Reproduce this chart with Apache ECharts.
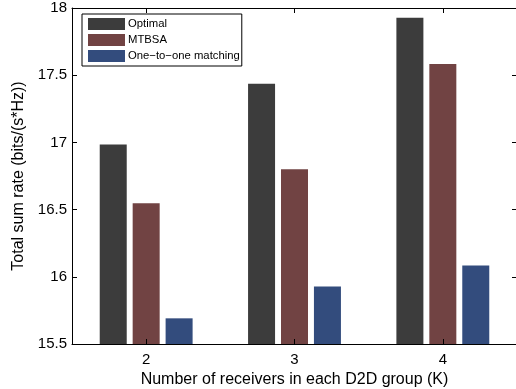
<!DOCTYPE html>
<html>
<head>
<meta charset="utf-8">
<script src="https://cdn.jsdelivr.net/npm/echarts@6/dist/echarts.min.js"></script>
<style>
  html, body { margin: 0; padding: 0; background: #fff; }
  #chart { width: 516px; height: 389px; }
</style>
</head>
<body>
<div id="chart"></div>
<script>
// Receivers per D2D group (K)
const categories = ['2', '3', '4'];
// Total sum rate, bits/(s*Hz)
const optimal = [16.985, 17.437, 17.928];
const mtbsa = [16.547, 16.800, 17.583];
const oneToOne = [15.691, 15.927, 16.085];
const seriesNames = ['Optimal', 'MTBSA', 'One\u2212to\u2212one matching'];
const yTicks = [15.5, 16, 16.5, 17, 17.5, 18];

const colors = ['#3c3c3c', '#714343', '#334c7d'];
const font = 'Liberation Sans, Arial, Helvetica, sans-serif';

const chart = echarts.init(document.getElementById('chart'), null, { renderer: 'canvas' });

const axisLine = { show: true, lineStyle: { color: '#000', width: 1 } };

function barSeries(name, data, color) {
  return {
    name: name,
    type: 'bar',
    data: data,
    barWidth: 27,
    barGap: '22%',
    itemStyle: { color: color },
    emphasis: { disabled: true }
  };
}

chart.setOption({
  animation: false,
  color: colors,
  textStyle: { fontFamily: font },
  grid: { left: 72, right: -1, top: 8, bottom: 45, containLabel: false, outerBoundsMode: 'none' },
  legend: {
    orient: 'vertical',
    left: 82,
    top: 14,
    padding: [4, 2, 4, 6],
    itemWidth: 37,
    itemHeight: 12,
    itemGap: 4,
    icon: 'rect',
    borderColor: '#000',
    borderWidth: 1,
    backgroundColor: '#fff',
    selectedMode: false,
    textStyle: { fontFamily: font, fontSize: 11.3, color: '#000', padding: [0, 0, 0, -2] },
    data: seriesNames
  },
  xAxis: [
    {
      type: 'category',
      data: categories,
      position: 'bottom',
      axisLine: axisLine,
      axisTick: { show: true, inside: true, alignWithLabel: true, length: 5, lineStyle: { color: '#000' } },
      axisLabel: { color: '#000', fontSize: 15, fontFamily: font, margin: 8 },
      name: 'Number of receivers in each D2D group (K)',
      nameLocation: 'middle',
      nameGap: 23,
      nameTextStyle: { color: '#000', fontSize: 16, fontFamily: font },
      z: 5
    },
    {
      type: 'category',
      data: categories,
      position: 'top',
      axisLine: axisLine,
      axisTick: { show: true, inside: true, alignWithLabel: true, length: 5, lineStyle: { color: '#000' } },
      axisLabel: { show: false },
      z: 5
    }
  ],
  yAxis: [
    {
      type: 'value',
      min: 15.5,
      max: 18,
      interval: 0.5,
      position: 'left',
      axisLine: axisLine,
      axisTick: { show: true, inside: true, length: 5, lineStyle: { color: '#000' } },
      axisLabel: {
        color: '#000', fontSize: 15, fontFamily: font, margin: 5,
        customValues: yTicks,
        formatter: v => String(v)
      },
      splitLine: { show: false },
      name: 'Total sum rate (bits/(s*Hz))',
      nameLocation: 'middle',
      nameGap: 40,
      nameTextStyle: { color: '#000', fontSize: 16, fontFamily: font },
      z: 5
    },
    {
      type: 'value',
      min: 15.5,
      max: 18,
      interval: 0.5,
      position: 'right',
      axisLine: axisLine,
      axisTick: { show: true, inside: true, length: 5, lineStyle: { color: '#000' } },
      axisLabel: { show: false },
      splitLine: { show: false },
      z: 5
    }
  ],
  series: [
    barSeries(seriesNames[0], optimal, colors[0]),
    barSeries(seriesNames[1], mtbsa, colors[1]),
    barSeries(seriesNames[2], oneToOne, colors[2])
  ]
});
</script>
</body>
</html>
